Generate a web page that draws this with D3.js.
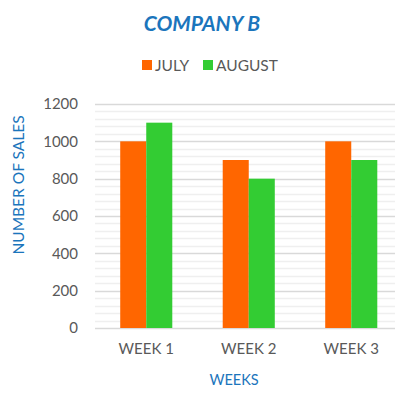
<!DOCTYPE html>
<html><head><meta charset="utf-8">
<script src="https://cdn.jsdelivr.net/npm/d3@7"></script>
<style>body{margin:0;background:#fff}svg{display:block}</style>
</head><body>
<script>
const weeks = ["WEEK 1", "WEEK 2", "WEEK 3"];
const seriesNames = ["JULY", "AUGUST"];
const july = [1000, 900, 1000];
const august = [1100, 800, 900];
const yTicks = [0, 200, 400, 600, 800, 1000, 1200];
const colors = ["#FF6600", "#33CC33"];

const W = 395, H = 393;
const font = "Lato, 'Open Sans', sans-serif";
const svg = d3.select("body").append("svg").attr("width", W).attr("height", H);

const x0 = d3.scaleBand().domain(weeks).range([95, 402.5]).padding(0);
const bw = x0.bandwidth();
const x1 = d3.scaleBand().domain(seriesNames).range([bw * 0.246, bw * 0.754]).padding(0);
const y = d3.scaleLinear().domain([0, 1200]).range([328, 104]);

// minor gridlines
const minor = d3.range(0, 1201, 40).filter(v => v % 200 !== 0);
svg.append("g").selectAll("line").data(minor).join("line")
  .attr("x1", 95).attr("x2", 395)
  .attr("y1", d => Math.round(y(d)) + 0.5).attr("y2", d => Math.round(y(d)) + 0.5)
  .attr("stroke", "#efefef").attr("stroke-width", 1.5);
// major gridlines
svg.append("g").selectAll("line").data(yTicks).join("line")
  .attr("x1", 95).attr("x2", 395)
  .attr("y1", d => Math.round(y(d)) + 0.5).attr("y2", d => Math.round(y(d)) + 0.5)
  .attr("stroke", "#d9d9d9").attr("stroke-width", 1.5);

const data = weeks.map((w, i) => ({week: w, vals: [july[i], august[i]]}));
const g = svg.append("g").selectAll("g").data(data).join("g")
  .attr("transform", d => `translate(${x0(d.week)},0)`);
g.selectAll("rect").data(d => d.vals.map((v, j) => ({name: seriesNames[j], v, j}))).join("rect")
  .attr("x", d => x1(d.name)).attr("width", x1.bandwidth())
  .attr("y", d => y(d.v)).attr("height", d => y(0) - y(d.v))
  .attr("fill", d => colors[d.j]);

// y axis labels
const yAxis = d3.axisLeft(y).tickValues(yTicks).tickFormat(d3.format("d")).tickSize(0).tickPadding(0);
const ya = svg.append("g").attr("transform", "translate(78,0)").call(yAxis);
ya.select(".domain").remove();
ya.selectAll("text").attr("font-family", font).attr("font-size", 15).attr("fill", "#595959");

// x axis labels
const xAxis = d3.axisBottom(x0).tickSize(0).tickPadding(0);
const xa = svg.append("g").attr("transform", "translate(0,343)").call(xAxis);
xa.select(".domain").remove();
xa.selectAll("text").attr("font-family", font).attr("font-size", 15).attr("fill", "#595959");

// title
svg.append("text").attr("x", 202).attr("y", 31).attr("text-anchor", "middle")
  .attr("font-family", font).attr("font-style", "italic").attr("font-weight", "bold")
  .attr("font-size", 21).attr("fill", "#1B75BC").text("COMPANY B");

// legend
const legX = [142, 203];
seriesNames.forEach((n, i) => {
  svg.append("rect").attr("x", legX[i]).attr("y", 60).attr("width", 10).attr("height", 10).attr("fill", colors[i]);
  svg.append("text").attr("x", legX[i] + 13).attr("y", 70.5)
    .attr("font-family", font).attr("font-size", 15.5).attr("fill", "#595959").text(n);
});

// axis titles
svg.append("text").attr("x", 234).attr("y", 385).attr("text-anchor", "middle")
  .attr("font-family", font).attr("font-size", 14.5).attr("fill", "#1B75BC").text("WEEKS");
svg.append("text").attr("transform", "translate(24,185) rotate(-90)").attr("text-anchor", "middle")
  .attr("font-family", font).attr("font-size", 15.5).attr("fill", "#1B75BC").text("NUMBER OF SALES");
</script>
</body></html>
